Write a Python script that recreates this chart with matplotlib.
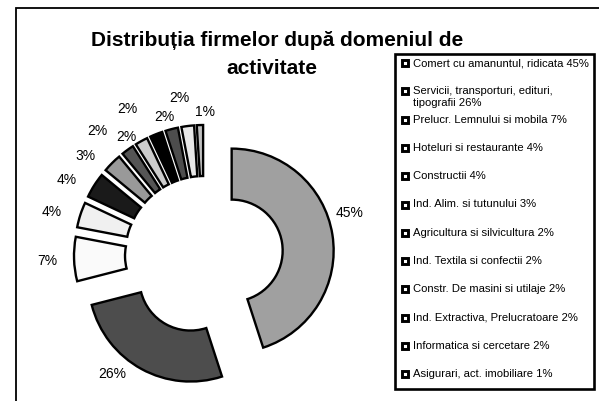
import matplotlib.pyplot as plt
from matplotlib.patches import Rectangle
import numpy as np

plt.rcParams['font.family'] = ['Liberation Sans', 'DejaVu Sans']

# Data
domains = [
    "Comert cu amanuntul, ridicata 45%",
    "Servicii, transporturi, edituri,\ntipografii 26%",
    "Prelucr. Lemnului si mobila 7%",
    "Hoteluri si restaurante 4%",
    "Constructii 4%",
    "Ind. Alim. si tutunului 3%",
    "Agricultura si silvicultura 2%",
    "Ind. Textila si confectii 2%",
    "Constr. De masini si utilaje 2%",
    "Ind. Extractiva, Prelucratoare 2%",
    "Informatica si cercetare 2%",
    "Asigurari, act. imobiliare 1%",
]
shares = [45, 26, 7, 4, 4, 3, 2, 2, 2, 2, 2, 1]
slice_colors = ["#a0a0a0", "#4d4d4d", "#fafafa", "#f0f0f0", "#1a1a1a", "#999999",
                "#555555", "#cccccc", "#000000", "#4d4d4d", "#e8e8e8", "#c0c0c0"]

# label placement (distance in radii from pie centre, angle nudge in degrees)
label_dist = [1.49, 1.47, 1.54, 1.55, 1.54, 1.52, 1.61, 1.39, 1.62, 1.42, 1.57, 1.41]
label_nudge = [7.4, -9, 0, 2, 3.4, 5, 4.6, 4.2, 5.9, 1.6, 1.8, -2.2]

W, H = 599, 402
fig = plt.figure(figsize=(W / 100, H / 100), dpi=100)
ax = fig.add_axes([0, 0, 1, 1])

CX, CY, R = 204, H - 256, 102
wedges, _ = ax.pie(shares, colors=slice_colors, explode=[28] * len(shares),
                   radius=R, center=(CX, CY), startangle=90, counterclock=False,
                   wedgeprops=dict(width=R / 2, edgecolor='black', linewidth=1.7,
                                   joinstyle='miter'))

for w, s, d, n in zip(wedges, shares, label_dist, label_nudge):
    a = np.deg2rad((w.theta1 + w.theta2) / 2 + n)
    ax.text(CX + d * R * np.cos(a), CY + d * R * np.sin(a), f"{s}%",
            ha='center', va='center', fontsize=10)

ax.set_xlim(0, W)
ax.set_ylim(0, H)
ax.set_aspect('equal')
ax.axis('off')

# outer chart frame (only left and top edges fall inside the image)
ax.add_patch(Rectangle((16, -40), 700, H - 9 + 40, fill=False, ec='black', lw=1.3))

# title
ax.text(277, H - 40, "Distribuția firmelor după domeniul de", fontsize=15,
        fontweight='bold', ha='center', va='center')
ax.text(272, H - 69, "activitate", fontsize=15, fontweight='bold',
        ha='center', va='center')

# legend box
ax.add_patch(Rectangle((395, H - 390), 199, 335, fill=False, ec='black', lw=1.9))
for i, name in enumerate(domains):
    y = H - (64 + i * 28.3)
    ax.plot(405, y, marker='s', ms=5, mfc='white', mec='black', mew=2.1)
    ax.text(413, y + 6, name, ha='left', va='top', fontsize=8.1, linespacing=1.2)

fig.savefig("out.png", dpi=100)
